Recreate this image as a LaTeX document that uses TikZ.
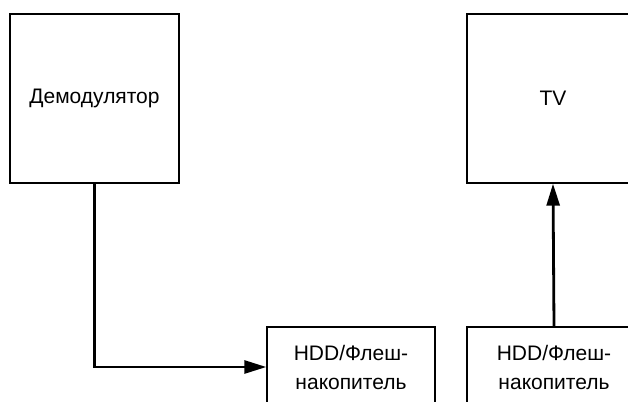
\documentclass[tikz,border=0pt]{standalone}
\usepackage{fontspec}
\setmainfont{Liberation Sans}
\usetikzlibrary{positioning,calc,arrows.meta}

\tikzset{
    block/.style={draw, line width=1.4pt, align=center, inner sep=0pt,
        font=\fontsize{21}{29}\selectfont},
    conn/.style={line width=2.8pt, -{Triangle[length=22pt,width=13pt]}}
}

\begin{document}
\begin{tikzpicture}[x=1pt,y=-1pt]
    \useasboundingbox (0,0) rectangle (628,401);
    \clip (0,0) rectangle (628,401);

    \node[block, minimum width=169pt, minimum height=169pt] (demod) at (94.5,98.5) {Демодулятор};
    \node[block, minimum width=172pt, minimum height=169pt] (tv) at (553,98.5) {TV};
    \node[block, minimum width=168pt, minimum height=80pt] (hddA) at (351,367) {HDD/Флеш-\\накопитель};
    \node[block, minimum width=174pt, minimum height=80pt] (hddB) at (554,367) {HDD/Флеш-\\накопитель};

    \draw[conn] (demod.south) |- (hddA.west);
    \draw[conn] (hddB.north) -- (tv.south);
\end{tikzpicture}
\end{document}
